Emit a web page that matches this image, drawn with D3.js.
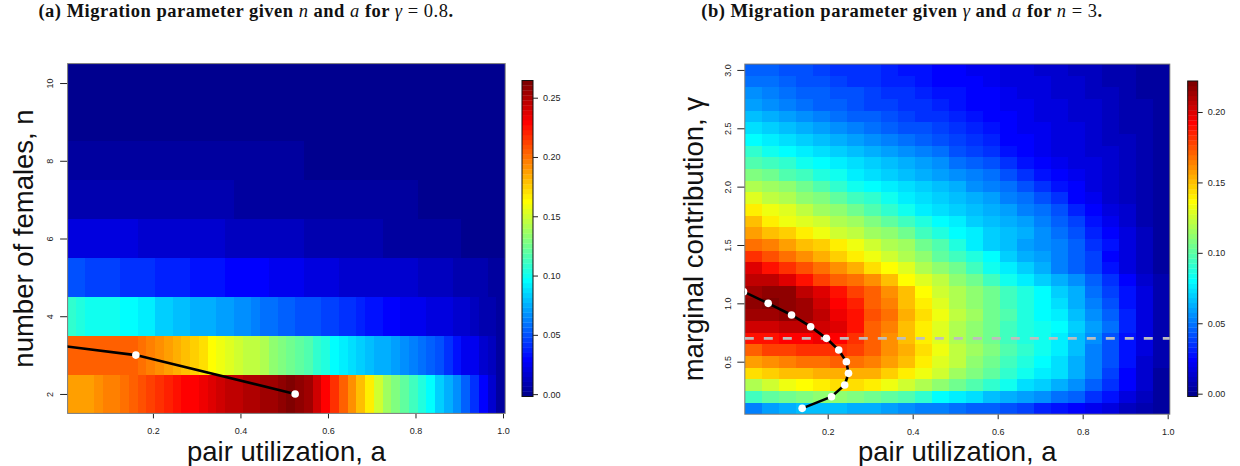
<!DOCTYPE html>
<html>
<head>
<meta charset="UTF-8"/>
<script src="https://cdn.jsdelivr.net/npm/d3@7"></script>
<style>
  body { margin: 0; background: #fff; }
  svg { display: block; }
</style>
</head>
<body>
<script>
// values are migration parameter x 1000

// ---- panel (a): rows n = 2..10, columns a (cell width 0.02)
var colsA = [0.015,0.035,0.055,0.075,0.095,0.115,0.135,0.155,0.175,0.195,
             0.215,0.235,0.255,0.275,0.295,0.315,0.335,0.355,0.375,0.395,
             0.415,0.435,0.455,0.475,0.495,0.515,0.535,0.555,0.575,0.595,
             0.615,0.635,0.655,0.675,0.695,0.715,0.735,0.755,0.775,0.795,
             0.815,0.835,0.855,0.875,0.895,0.915,0.935,0.955,0.975,0.995];
var nValues = [2,3,4,5,6,7,8,9,10];

var migN2 = [188,188,189,192,194,196,202,206,208,212,217,221,225,229,229,233,237,240,244,246,
             248,250,254,256,258,262,260,254,242,231,217,204,192,179,167,150,138,129,121,113,
             104,94,83,75,67,54,42,29,17,4];
var migN3 = [204,204,204,204,204,204,204,204,200,196,192,188,183,179,175,169,163,158,154,150,
             146,144,140,135,129,125,121,117,110,104,96,92,88,83,79,77,75,71,67,63,
             58,54,48,42,33,27,23,17,13,6];
var migN4 = [108,104,102,102,102,100,96,96,92,90,85,83,81,79,77,75,73,71,69,67,
             65,63,60,58,56,54,52,50,48,46,44,42,40,38,35,33,31,29,27,25,
             23,21,19,19,17,15,13,10,8,4];
var migN5 = [50,50,46,46,46,46,42,42,42,42,38,38,38,38,33,33,33,33,29,29,
             29,29,29,25,25,25,25,21,21,21,21,17,17,17,17,17,17,17,17,17,
             13,13,13,13,8,8,8,8,4,4];
var migN6 = [21,21,21,21,21,21,21,21,17,17,17,17,17,17,17,17,17,17,13,13,
             13,13,13,13,13,13,13,8,8,8,8,8,8,8,8,8,4,4,4,4,
             4,4,4,4,4,1,1,1,1,1];
var migN7 = [8,8,8,8,8,8,8,8,8,8,8,8,8,8,8,8,8,8,8,4,
             4,4,4,4,4,4,4,4,4,4,4,4,4,4,4,4,4,4,4,4,
             1,1,1,1,1,1,1,1,1,1];
var migN8 = [4,4,4,4,4,4,4,4,4,4,4,4,4,4,4,4,4,4,4,4,
             4,4,4,4,4,4,4,1,1,1,1,1,1,1,1,1,1,1,1,1,
             1,1,1,1,1,1,1,1,1,1];
var migN9 = [1,1,1,1,1,1,1,1,1,1,1,1,1,1,1,1,1,1,1,1,
             1,1,1,1,1,1,1,1,1,1,1,1,1,1,1,1,1,1,1,1,
             1,1,1,1,1,1,1,1,1,1];
var migN10 = [1,1,1,1,1,1,1,1,1,1,1,1,1,1,1,1,1,1,1,1,
              1,1,1,1,1,1,1,1,1,1,1,1,1,1,1,1,1,1,1,1,
              1,1,1,1,1,1,1,1,1,1];
var zlimA = [-0.002, 0.2645];

// optimum a for each n (first point lies outside the plot)
var optA_a = [-0.55, 0.161, 0.525];
var optA_n = [4, 3, 2];

// ---- panel (b): rows gamma = 0.1..3.0, columns a (cell width 0.04)
var colsB = [0.025,0.065,0.105,0.145,0.185,0.225,0.265,0.305,0.345,0.385,0.425,0.465,0.505,
             0.545,0.585,0.625,0.665,0.705,0.745,0.785,0.825,0.865,0.905,0.945,0.985];
var gammaValues = [0.1,0.2,0.3,0.4,0.5,0.6,0.7,0.8,0.9,1.0,1.1,1.2,1.3,1.4,1.5,
                   1.6,1.7,1.8,1.9,2.0,2.1,2.2,2.3,2.4,2.5,2.6,2.7,2.8,2.9,3.0];

var migG01 = [52,58,63,65,66,66,63,61,59,56,53,51,49,46,44,40,37,32,28,24,20,16,11,6,2];
var migG02 = [94,100,105,108,111,111,109,105,101,96,89,81,77,72,66,62,58,54,50,44,36,28,19,11,3];
var migG03 = [120,124,131,136,140,142,142,140,133,126,119,111,105,98,91,82,74,68,63,55,45,35,24,13,4];
var migG04 = [143,145,149,151,154,155,155,152,146,140,133,124,116,108,100,91,83,77,72,62,51,38,26,14,4];
var migG05 = [158,160,164,166,168,170,169,164,157,149,140,129,121,112,103,95,86,80,73,64,53,40,27,15,5];
var migG06 = [173,177,178,182,183,183,177,170,161,152,142,133,122,115,107,98,89,82,75,66,53,41,28,16,5];
var migG07 = [187,189,191,193,195,192,182,171,161,150,140,129,120,112,103,95,87,83,77,66,54,41,28,16,5];
var migG08 = [202,204,205,206,204,198,187,173,163,151,140,129,119,112,103,94,86,82,79,70,59,47,32,19,7];
var migG09 = [212,214,215,213,206,197,187,176,166,155,144,132,123,114,105,96,87,81,75,67,57,45,31,18,6];
var migG10 = [218,220,218,212,203,193,184,173,163,151,138,128,119,111,103,94,86,80,73,63,53,41,29,17,6];
var migG11 = [213,215,215,206,198,189,179,170,162,151,135,126,119,111,103,93,86,79,71,61,50,39,28,16,5];
var migG12 = [206,205,198,189,179,171,166,159,149,136,128,121,112,103,94,82,75,69,62,54,45,36,26,15,5];
var migG13 = [198,189,182,175,168,161,153,144,136,128,119,111,103,94,85,76,68,61,53,45,37,28,19,11,4];
var migG14 = [182,175,168,161,154,147,140,133,126,119,112,102,93,86,79,70,63,58,52,46,37,26,18,10,4];
var migG15 = [168,164,157,151,145,138,132,126,120,114,106,97,87,77,71,65,60,55,51,45,36,27,18,11,4];
var migG16 = [157,151,145,139,133,127,122,116,111,103,95,87,80,75,70,66,61,56,50,42,32,24,16,9,4];
var migG17 = [149,141,134,129,124,119,114,109,102,94,87,80,75,71,67,62,58,53,46,38,29,21,14,8,3];
var migG18 = [139,134,128,122,116,110,103,96,89,82,77,73,69,66,62,58,53,47,40,32,24,18,12,7,3];
var migG19 = [128,123,118,113,108,102,95,89,82,78,74,70,67,62,58,53,47,41,33,26,20,15,10,6,2];
var migG20 = [119,115,110,103,97,90,84,80,76,72,68,65,61,57,53,48,42,35,29,23,18,13,9,5,2];
var migG21 = [108,103,98,93,88,82,78,74,70,67,63,60,56,52,47,40,34,27,24,20,17,14,11,7,3];
var migG22 = [98,93,89,84,80,76,73,69,66,62,58,54,50,45,40,34,29,24,21,18,16,13,10,6,3];
var migG23 = [89,84,80,76,73,69,66,62,59,55,52,47,42,38,33,29,24,22,19,17,14,12,9,6,3];
var migG24 = [80,76,73,69,66,62,59,55,52,48,45,41,37,33,30,26,24,21,19,16,14,11,9,6,3];
var migG25 = [72,68,65,62,59,55,52,49,46,43,40,37,34,31,27,24,22,20,18,16,13,11,8,5,2];
var migG26 = [66,62,58,54,51,49,46,44,41,39,36,34,31,28,26,24,21,19,17,15,13,10,8,5,2];
var migG27 = [59,55,52,49,46,44,42,39,37,35,33,31,28,26,24,22,20,18,16,14,12,10,7,5,2];
var migG28 = [54,51,49,46,44,42,40,38,35,33,31,29,27,25,23,21,19,17,15,13,11,9,7,4,2];
var migG29 = [49,47,45,42,40,38,36,34,32,30,28,26,25,23,21,19,17,16,14,12,10,8,6,4,2];
var migG30 = [45,44,42,40,38,36,34,33,31,29,27,25,24,22,20,18,16,14,13,11,9,7,5,4,2];
var zlimB = [-0.002, 0.222];

// optimum a for each gamma, and the reference gamma
var optB_gamma = [1.1,1.0,0.9,0.8,0.7,0.6,0.5,0.4,0.3,0.2,0.1];
var optB_a     = [0.002,0.060,0.115,0.160,0.197,0.226,0.244,0.249,0.240,0.209,0.140];
var refGamma = 0.7;

var ticksA_x = [0.2,0.4,0.6,0.8,1.0], ticksA_y = [2,4,6,8,10];
var ticksB_x = [0.2,0.4,0.6,0.8,1.0], ticksB_y = [0.5,1.0,1.5,2.0,2.5,3.0];
var cbTicksA = [0,0.05,0.10,0.15,0.20,0.25];
var cbTicksB = [0,0.05,0.10,0.15,0.20];

var sans = "'Liberation Sans', Arial, sans-serif";
var serif = "'Liberation Serif', 'Times New Roman', serif";

var svg = d3.select("body").append("svg").attr("width", 1240).attr("height", 466);

// matlab style jet, 64 levels (as fields::tim.colors)
function jet(i) {
  var r = i <= 24 ? 0 : i <= 40 ? (i - 24) / 16 : i <= 56 ? 1 : (72 - i) / 16;
  var g = i <= 8 ? 0 : i <= 24 ? (i - 8) / 16 : i <= 40 ? 1 : i <= 56 ? (56 - i) / 16 : 0;
  var b = i <= 8 ? (i + 8) / 16 : i <= 24 ? 1 : i <= 40 ? (40 - i) / 16 : 0;
  return d3.rgb(r * 255, g * 255, b * 255).formatHex();
}
function level(v, zl) {
  var i = Math.floor((v - zl[0]) / (zl[1] - zl[0]) * 64) + 1;
  return Math.max(1, Math.min(64, i));
}

function panel(p) {
  var x = d3.scaleLinear().domain(p.xDomain).range(p.xRange);
  var y = d3.scaleLinear().domain(p.yDomain).range(p.yRange);
  var g = svg.append("g");

  var cells = [];
  p.rows.forEach(function(row, ri) {
    row.forEach(function(v, ci) {
      cells.push({ a: p.cols[ci], r: p.rowVals[ri], v: v / 1000 });
    });
  });
  g.selectAll("rect.cell").data(cells).enter().append("rect")
    .attr("class", "cell")
    .attr("x", function(d) { return Math.round(x(d.a - p.dx / 2)); })
    .attr("width", function(d) { return Math.round(x(d.a + p.dx / 2)) - Math.round(x(d.a - p.dx / 2)); })
    .attr("y", function(d) { return Math.round(y(d.r + p.dy / 2)); })
    .attr("height", function(d) { return Math.round(y(d.r - p.dy / 2)) - Math.round(y(d.r + p.dy / 2)); })
    .attr("fill", function(d) { return jet(level(d.v, p.zlim)); })
    .attr("shape-rendering", "crispEdges");

  var x0 = x(p.xDomain[0]), x1 = x(p.xDomain[1]);
  var y0 = y(p.yDomain[1]), y1 = y(p.yDomain[0]);

  g.append("clipPath").attr("id", p.id + "clip")
    .append("rect").attr("x", x0).attr("y", y0).attr("width", x1 - x0).attr("height", y1 - y0);

  // axes
  var ax = g.append("g").attr("transform", "translate(0," + y1 + ")")
    .call(d3.axisBottom(x).tickValues(p.xTicks).tickSize(5).tickFormat(d3.format(".1f")));
  ax.select(".domain").remove();
  ax.selectAll("line").attr("stroke", "#222");
  ax.selectAll("text").attr("y", 14).attr("font-size", 9).attr("font-family", sans).attr("fill", "#222");

  var ay = g.append("g").attr("transform", "translate(" + x0 + ",0)")
    .call(d3.axisLeft(y).tickValues(p.yTicks).tickSize(7.5).tickFormat(p.yFmt));
  ay.select(".domain").remove();
  ay.selectAll("line").attr("stroke", "#222");
  ay.selectAll("text")
    .attr("x", 0).attr("dy", "0.35em").attr("text-anchor", "middle")
    .attr("transform", "translate(" + p.yLabOff + ",0) rotate(-90)")
    .attr("font-size", 9).attr("font-family", sans).attr("fill", "#222");

  g.append("rect").attr("x", x0).attr("y", y0).attr("width", x1 - x0).attr("height", y1 - y0)
    .attr("fill", "none").attr("stroke", "#777").attr("stroke-width", 1);

  // axis titles
  g.append("text").attr("x", (x0 + x1) / 2).attr("y", 461)
    .attr("text-anchor", "middle").attr("font-family", sans).attr("font-size", 27.5)
    .attr("fill", "#111").text(p.xTitle);
  g.append("text").attr("transform", "translate(" + p.yTitleX + "," + (y0 + y1) / 2 + ") rotate(-90)")
    .attr("text-anchor", "middle").attr("font-family", sans).attr("font-size", 27.5)
    .attr("fill", "#111").text(p.yTitle);

  // colour bar
  var cb = d3.scaleLinear().domain(p.zlim).range([396.5, p.cbTop]);
  var step = (p.zlim[1] - p.zlim[0]) / 64;
  var cg = svg.append("g");
  cg.selectAll("rect.lev").data(d3.range(1, 65)).enter().append("rect")
    .attr("x", p.cbX).attr("width", p.cbW)
    .attr("y", function(i) { return cb(p.zlim[0] + i * step); })
    .attr("height", function(i) { return cb(p.zlim[0] + (i - 1) * step) - cb(p.zlim[0] + i * step) + 0.3; })
    .attr("fill", function(i) { return jet(i); });
  cg.append("rect").attr("x", p.cbX).attr("y", cb(p.zlim[1])).attr("width", p.cbW)
    .attr("height", cb(p.zlim[0]) - cb(p.zlim[1]))
    .attr("fill", "none").attr("stroke", "#111").attr("stroke-width", 1);
  var ac = cg.append("g").attr("transform", "translate(" + (p.cbX + p.cbW) + ",0)")
    .call(d3.axisRight(cb).tickValues(p.cbTicks).tickSize(5).tickFormat(d3.format(".2f")));
  ac.select(".domain").remove();
  ac.selectAll("line").attr("stroke", "#222");
  ac.selectAll("text").attr("x", 10).attr("font-size", 9).attr("font-family", sans).attr("fill", "#222");

  return { x: x, y: y, g: g };
}

var pa = panel({
  id: "pa", cols: colsA, rowVals: nValues,
  rows: [migN2, migN3, migN4, migN5, migN6, migN7, migN8, migN9, migN10],
  dx: 0.02, dy: 1, zlim: zlimA,
  xDomain: [0.005, 1.005], xRange: [67.6, 505.2],
  yDomain: [1.5, 10.5], yRange: [413.4, 63.6],
  xTicks: ticksA_x, yTicks: ticksA_y, yFmt: d3.format("d"), yLabOff: -17.6,
  xTitle: "pair utilization, a", yTitle: "number of females, n", yTitleX: 33,
  cbX: 522, cbW: 11, cbTop: 80.5, cbTicks: cbTicksA
});

var pb = panel({
  id: "pb", cols: colsB, rowVals: gammaValues,
  rows: [migG01, migG02, migG03, migG04, migG05, migG06, migG07, migG08, migG09, migG10,
         migG11, migG12, migG13, migG14, migG15, migG16, migG17, migG18, migG19, migG20,
         migG21, migG22, migG23, migG24, migG25, migG26, migG27, migG28, migG29, migG30],
  dx: 0.04, dy: 0.1, zlim: zlimB,
  xDomain: [0.005, 1.005], xRange: [744.8, 1169.8],
  yDomain: [0.05, 3.05], yRange: [414.2, 64.1],
  xTicks: ticksB_x, yTicks: ticksB_y, yFmt: d3.format(".1f"), yLabOff: -17,
  xTitle: "pair utilization, a", yTitle: "marginal contribution, \u03b3", yTitleX: 703,
  cbX: 1187.7, cbW: 10, cbTop: 81, cbTicks: cbTicksB
});

// overlays
var ptsA = optA_a.map(function(a, i) { return [a, optA_n[i]]; });
var layA = pa.g.append("g").attr("clip-path", "url(#paclip)");
layA.append("path").datum(ptsA)
  .attr("d", d3.line().x(function(d) { return pa.x(d[0]); }).y(function(d) { return pa.y(d[1]); }))
  .attr("fill", "none").attr("stroke", "#000").attr("stroke-width", 2.6);
layA.selectAll("circle").data(ptsA).enter().append("circle")
  .attr("cx", function(d) { return pa.x(d[0]); }).attr("cy", function(d) { return pa.y(d[1]); })
  .attr("r", 3.8).attr("fill", "#fff");

var layB = pb.g.append("g").attr("clip-path", "url(#pbclip)");
layB.append("line")
  .attr("x1", pb.x(0.005)).attr("x2", pb.x(1.005))
  .attr("y1", pb.y(refGamma)).attr("y2", pb.y(refGamma))
  .attr("stroke", "#bebebe").attr("stroke-width", 2.6).attr("stroke-dasharray", "9,10");
var ptsB = optB_a.map(function(a, i) { return [a, optB_gamma[i]]; });
layB.append("path").datum(ptsB)
  .attr("d", d3.line().x(function(d) { return pb.x(d[0]); }).y(function(d) { return pb.y(d[1]); }))
  .attr("fill", "none").attr("stroke", "#000").attr("stroke-width", 2.6);
layB.selectAll("circle").data(ptsB).enter().append("circle")
  .attr("cx", function(d) { return pb.x(d[0]); }).attr("cy", function(d) { return pb.y(d[1]); })
  .attr("r", 3.8).attr("fill", "#fff");

// titles
function title(xc, parts) {
  var t = svg.append("text").attr("x", xc).attr("y", 17).attr("text-anchor", "middle")
    .attr("font-family", serif).attr("font-size", 18.5).attr("letter-spacing", 0.5)
    .attr("fill", "#111");
  parts.forEach(function(p) {
    t.append("tspan").attr("font-weight", p[1] ? "normal" : "bold")
      .attr("font-style", p[1] === "i" ? "italic" : "normal").text(p[0]);
  });
}
title(246, [["(a) Migration parameter given "], ["n", "i"], [" and "], ["a", "i"], [" for "],
            ["\u03b3", "i"], [" = 0.8", "r"], ["."]]);
title(902, [["(b) Migration parameter given "], ["\u03b3", "i"], [" and "], ["a", "i"], [" for "],
            ["n", "i"], [" = 3", "r"], ["."]]);
</script>
</body>
</html>
